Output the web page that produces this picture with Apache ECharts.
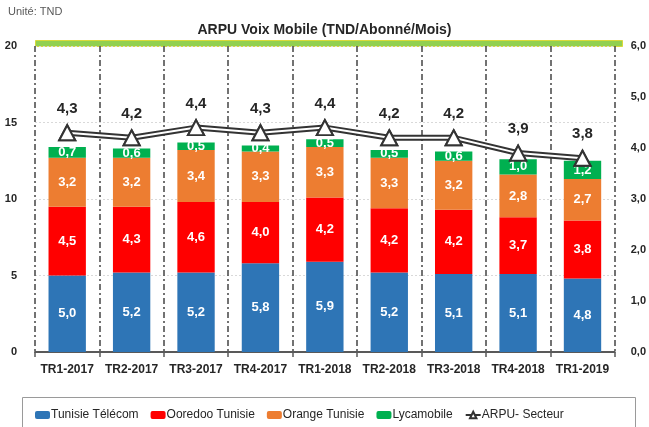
<!DOCTYPE html>
<html>
<head>
<meta charset="utf-8">
<script src="https://cdn.jsdelivr.net/npm/echarts@6/dist/echarts.min.js"></script>
<style>
  html, body { margin: 0; padding: 0; background: #fff; }
  #chart { width: 649px; height: 427px; }
</style>
</head>
<body>
<div id="chart"></div>
<script>
(function () {
  "use strict";

  var FONT = "Liberation Sans, Arial, sans-serif";
  var TEXT = "#262626";

  var quarters = ["TR1-2017", "TR2-2017", "TR3-2017", "TR4-2017", "TR1-2018", "TR2-2018", "TR3-2018", "TR4-2018", "TR1-2019"];
  var tunisieTelecom = [5.0, 5.2, 5.2, 5.8, 5.9, 5.2, 5.1, 5.1, 4.8];
  var ooredoo = [4.5, 4.3, 4.6, 4.0, 4.2, 4.2, 4.2, 3.7, 3.8];
  var orange = [3.2, 3.2, 3.4, 3.3, 3.3, 3.3, 3.2, 2.8, 2.7];
  var lycamobile = [0.7, 0.6, 0.5, 0.4, 0.5, 0.5, 0.6, 1.0, 1.2];
  var arpuSecteur = [4.3, 4.2, 4.4, 4.3, 4.4, 4.2, 4.2, 3.9, 3.8];

  function comma(v) { return Number(v).toFixed(1).replace(".", ","); }

  function barSeries(name, data, color) {
    return {
      name: name,
      type: "bar",
      stack: "arpu",
      barWidth: "58%",
      data: data,
      itemStyle: { color: color },
      label: {
        show: true, position: "inside", color: "#fff", fontFamily: FONT,
        fontSize: 13, fontWeight: "bold",
        formatter: function (p) { return comma(p.value); }
      }
    };
  }

  var chart = echarts.init(document.getElementById("chart"));

  chart.setOption({
    animation: false,
    textStyle: { fontFamily: FONT },
    title: {
      text: "ARPU Voix Mobile (TND/Abonné/Mois)",
      left: "center", top: 18,
      textStyle: { fontFamily: FONT, fontSize: 14, fontWeight: "bold", color: TEXT }
    },
    grid: { left: 35, right: 27, top: 46, bottom: 75 },
    legend: {
      left: 30, top: 404,
      itemWidth: 15, itemHeight: 8, itemGap: 12,
      data: ["Tunisie Télécom", "Ooredoo Tunisie", "Orange Tunisie", "Lycamobile", "ARPU- Secteur"],
      textStyle: { fontFamily: FONT, fontSize: 12, color: TEXT, padding: [0, 0, 0, -4] }
    },
    graphic: [
      { type: "text", left: 8, top: 6, style: { text: "Unité: TND", fill: "#595959", font: "11px " + FONT } },
      { type: "rect", left: 35, top: 40, shape: { width: 587, height: 6 }, style: { fill: "#92D050", stroke: "#D9D93A", lineWidth: 1 } },
      { type: "rect", left: 20, top: 395, shape: { width: 613, height: 40 }, style: { fill: "none", stroke: "#9a9a9a", lineWidth: 1 } }
    ],
    xAxis: {
      type: "category",
      data: quarters,
      axisLine: { lineStyle: { color: "#595959", width: 2 } },
      axisTick: { show: true, interval: 0, length: 5, lineStyle: { color: "#595959", width: 1.5 } },
      axisLabel: { interval: 0, color: TEXT, fontSize: 12, fontWeight: "bold", margin: 12 },
      splitLine: { show: true, interval: 0, lineStyle: { color: "#444", width: 1.5, type: [6, 3, 2, 3] } }
    },
    yAxis: [
      {
        type: "value", min: 0, max: 20, interval: 5,
        axisLine: { show: false }, axisTick: { show: false },
        axisLabel: { color: TEXT, fontSize: 11, fontWeight: "bold", margin: 18 },
        splitLine: { show: true, lineStyle: { color: "#d9d9d9", type: [2, 2] } }
      },
      {
        type: "value", min: 0, max: 6, interval: 1,
        axisLine: { show: false }, axisTick: { show: false },
        axisLabel: { color: TEXT, fontSize: 11, fontWeight: "bold", margin: 16, formatter: comma },
        splitLine: { show: false }
      }
    ],
    series: [
      barSeries("Tunisie Télécom", tunisieTelecom, "#2E75B6"),
      barSeries("Ooredoo Tunisie", ooredoo, "#FF0000"),
      barSeries("Orange Tunisie", orange, "#ED7D31"),
      barSeries("Lycamobile", lycamobile, "#00B050"),
      {
        name: "ARPU- Secteur",
        type: "line",
        yAxisIndex: 1,
        data: arpuSecteur,
        symbol: "triangle",
        symbolSize: [16, 15],
        lineStyle: { color: "#333", width: 6 },
        itemStyle: { color: "#fff", borderColor: "#333", borderWidth: 2 },
        label: {
          show: true, position: "top", distance: 8, color: TEXT,
          fontSize: 15, fontWeight: "bold", formatter: function (p) { return comma(p.value); }
        },
        z: 3
      },
      {
        name: "arpu-inner",
        type: "line",
        yAxisIndex: 1,
        data: arpuSecteur,
        symbol: "triangle",
        symbolSize: [16, 15],
        lineStyle: { color: "#fff", width: 2 },
        itemStyle: { color: "#fff", borderColor: "#333", borderWidth: 2 },
        silent: true,
        z: 4
      }
    ]
  });
})();
</script>
</body>
</html>
